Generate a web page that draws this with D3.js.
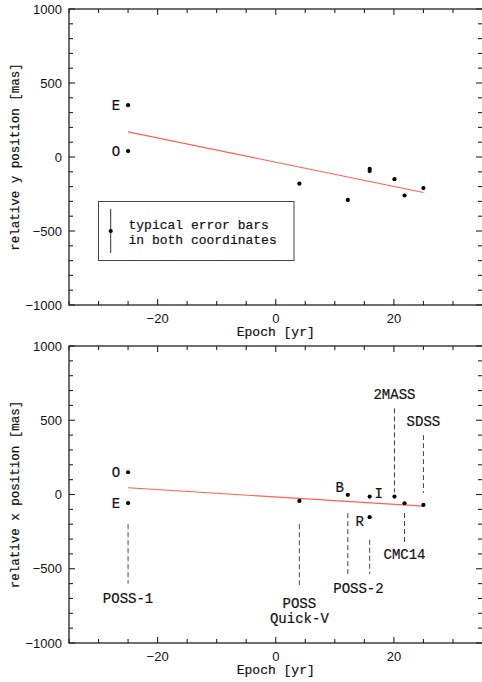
<!DOCTYPE html>
<html>
<head>
<meta charset="utf-8">
<script src="https://cdn.jsdelivr.net/npm/d3@7"></script>
<style>
  body { margin: 0; background: #fff; }
  .tick-label { font-family: "Liberation Sans", sans-serif; font-size: 13px; fill: #111; }
  .ann { font-family: "Liberation Mono", monospace; fill: #111; stroke: #111; stroke-width: 0.2; }
</style>
</head>
<body>
<svg id="chart" width="482" height="682"></svg>
<script>
"use strict";

// epochs (yr) of the measured positions
const names  = ["E", "O", "QuickV", "B", "I", "R", "2MASS", "CMC14", "SDSS"]
const epochs = [-25, -25, 4, 12.2, 15.9, 15.9, 20.1, 21.8, 25]
// relative positions [mas]
const yPos = [350, 40, -180, -290, -80, -95, -150, -260, -210]
const xPos = [-58, 150, -43, -2, -14, -153, -14, -59, -70]

// linear fits (end points)
const fitEpochs = [-25, 25]
const yFit = [170, -240]
const xFit = [45, -78]

const xTicks = [-20, 0, 20]
const yTicks = [-1000, -500, 0, 500, 1000]

// letter labels next to points: [text, epoch, value, dx, dy]
const topLetters = [["E", -25, 350], ["O", -25, 40]]
const botLetters = [["O", -25, 150], ["E", -25, -58]]
const filterLetters = [["B", 12.2, -2, -8, -3], ["I", 15.9, -14, 9, 1], ["R", 15.9, -153, -10, 9]]

// survey labels: [lines, epoch, labelValue, dashFrom, dashTo]
const surveys = [
  [["POSS-1"], -25, -700, -200, -600],
  [["POSS", "Quick-V"], 4, -730, -200, -610],
  [["POSS-2"], 14, -630, null, null],
  [["CMC14"], 21.8, -400, -125, -330],
  [["2MASS"], 20.1, 677, 580, 15],
  [["SDSS"], 25, 495, 400, 10]
]
const poss2Dashes = [[12.2, -125, -535], [15.9, -305, -535]]

const svg = d3.select("#chart")
const x = d3.scaleLinear().domain([-35, 35]).range([69, 482.5])

function panel(top, bottom, title) {
  const y = d3.scaleLinear().domain([-1000, 1000]).range([bottom, top])
  const g = svg.append("g")

  // ticks on all four sides, pointing inward
  const minorX = d3.range(-35, 36, 5)
  const minorY = d3.range(-1000, 1001, 100)
  minorX.forEach(v => {
    const len = v % 20 === 0 ? 6 : 4
    g.append("line").attr("x1", x(v)).attr("x2", x(v)).attr("y1", bottom).attr("y2", bottom - len)
      .attr("stroke", "#222").attr("stroke-width", 1.1)
    g.append("line").attr("x1", x(v)).attr("x2", x(v)).attr("y1", top).attr("y2", top + len)
      .attr("stroke", "#222").attr("stroke-width", 1.1)
  })
  minorY.forEach(v => {
    const len = v % 500 === 0 ? 6 : 4
    g.append("line").attr("x1", 69).attr("x2", 69 + len).attr("y1", y(v)).attr("y2", y(v))
      .attr("stroke", "#222").attr("stroke-width", 1.1)
    g.append("line").attr("x1", 482).attr("x2", 482 - len).attr("y1", y(v)).attr("y2", y(v))
      .attr("stroke", "#222").attr("stroke-width", 1.1)
  })

  g.append("rect").attr("x", 69).attr("y", top).attr("width", 414).attr("height", bottom - top)
    .attr("fill", "none").attr("stroke", "#222").attr("stroke-width", 1.3)

  g.selectAll(".xl").data(xTicks).enter().append("text")
    .attr("class", "tick-label").attr("x", d => x(d)).attr("y", bottom + 18)
    .attr("text-anchor", "middle").text(d => d < 0 ? "\u2212" + Math.abs(d) : d)
  g.selectAll(".yl").data(yTicks).enter().append("text")
    .attr("class", "tick-label").attr("x", 62).attr("y", d => y(d) + 4.5)
    .attr("text-anchor", "end").text(d => d < 0 ? "\u2212" + Math.abs(d) : d)

  g.append("text").attr("class", "ann").attr("font-size", 13)
    .attr("x", x(0)).attr("y", bottom + 31).attr("text-anchor", "middle").text("Epoch [yr]")
  g.append("text").attr("class", "ann").attr("font-size", 12.5)
    .attr("transform", `translate(19,${(top + bottom) / 2}) rotate(-90)`)
    .attr("text-anchor", "middle").text(title)
  return {g, y}
}

function points(p, values, fit) {
  p.g.append("line")
    .attr("x1", x(fitEpochs[0])).attr("y1", p.y(fit[0]))
    .attr("x2", x(fitEpochs[1])).attr("y2", p.y(fit[1]))
    .attr("stroke", "#ff6050").attr("stroke-width", 1.1)
  p.g.selectAll(".pt").data(epochs).enter().append("circle")
    .attr("cx", d => x(d)).attr("cy", (_, i) => p.y(values[i])).attr("r", 2.1).attr("fill", "#000")
}

function letters(p, list) {
  list.forEach(l => {
    p.g.append("text").attr("class", "ann").attr("font-size", 14)
      .attr("x", x(l[1]) + (l[3] === undefined ? -12 : l[3]))
      .attr("y", p.y(l[2]) + (l[4] === undefined ? 5 : l[4]))
      .attr("text-anchor", "middle").text(l[0])
  })
}

// top panel: y position
const pTop = panel(9, 305, "relative y position [mas]")
points(pTop, yPos, yFit)
letters(pTop, topLetters)

// legend box
pTop.g.append("rect").attr("x", 98.5).attr("y", 201.5).attr("width", 195.5).attr("height", 59)
  .attr("fill", "#fff").attr("stroke", "#444").attr("stroke-width", 1)
pTop.g.append("line").attr("x1", 110.7).attr("x2", 110.7).attr("y1", 209).attr("y2", 253)
  .attr("stroke", "#333").attr("stroke-width", 1)
pTop.g.append("circle").attr("cx", 110.7).attr("cy", 231).attr("r", 2.1).attr("fill", "#000")
pTop.g.append("text").attr("class", "ann").attr("font-size", 13).attr("x", 128.5).attr("y", 228.5)
  .text("typical error bars")
pTop.g.append("text").attr("class", "ann").attr("font-size", 13).attr("x", 128.5).attr("y", 243.5)
  .text("in both coordinates")

// bottom panel: x position
const pBot = panel(346, 643, "relative x position [mas]")
points(pBot, xPos, xFit)
letters(pBot, botLetters)
filterLetters.forEach(l => {
  pBot.g.append("text").attr("class", "ann").attr("font-size", 14)
    .attr("x", x(l[1]) + l[3]).attr("y", pBot.y(l[2]) + l[4])
    .attr("text-anchor", "middle").text(l[0])
})

const dashes = surveys.filter(s => s[3] !== null).map(s => [s[1], s[3], s[4]]).concat(poss2Dashes)
pBot.g.selectAll(".dash").data(dashes).enter().append("line")
  .attr("x1", d => x(d[0])).attr("x2", d => x(d[0]))
  .attr("y1", d => pBot.y(d[1])).attr("y2", d => pBot.y(d[2]))
  .attr("stroke", "#444").attr("stroke-width", 1).attr("stroke-dasharray", "5,3")

surveys.forEach(s => {
  s[0].forEach((line, k) => {
    pBot.g.append("text").attr("class", "ann").attr("font-size", 14)
      .attr("x", x(s[1])).attr("y", pBot.y(s[2]) + 5 + k * 15)
      .attr("text-anchor", "middle").text(line)
  })
})
</script>
</body>
</html>
